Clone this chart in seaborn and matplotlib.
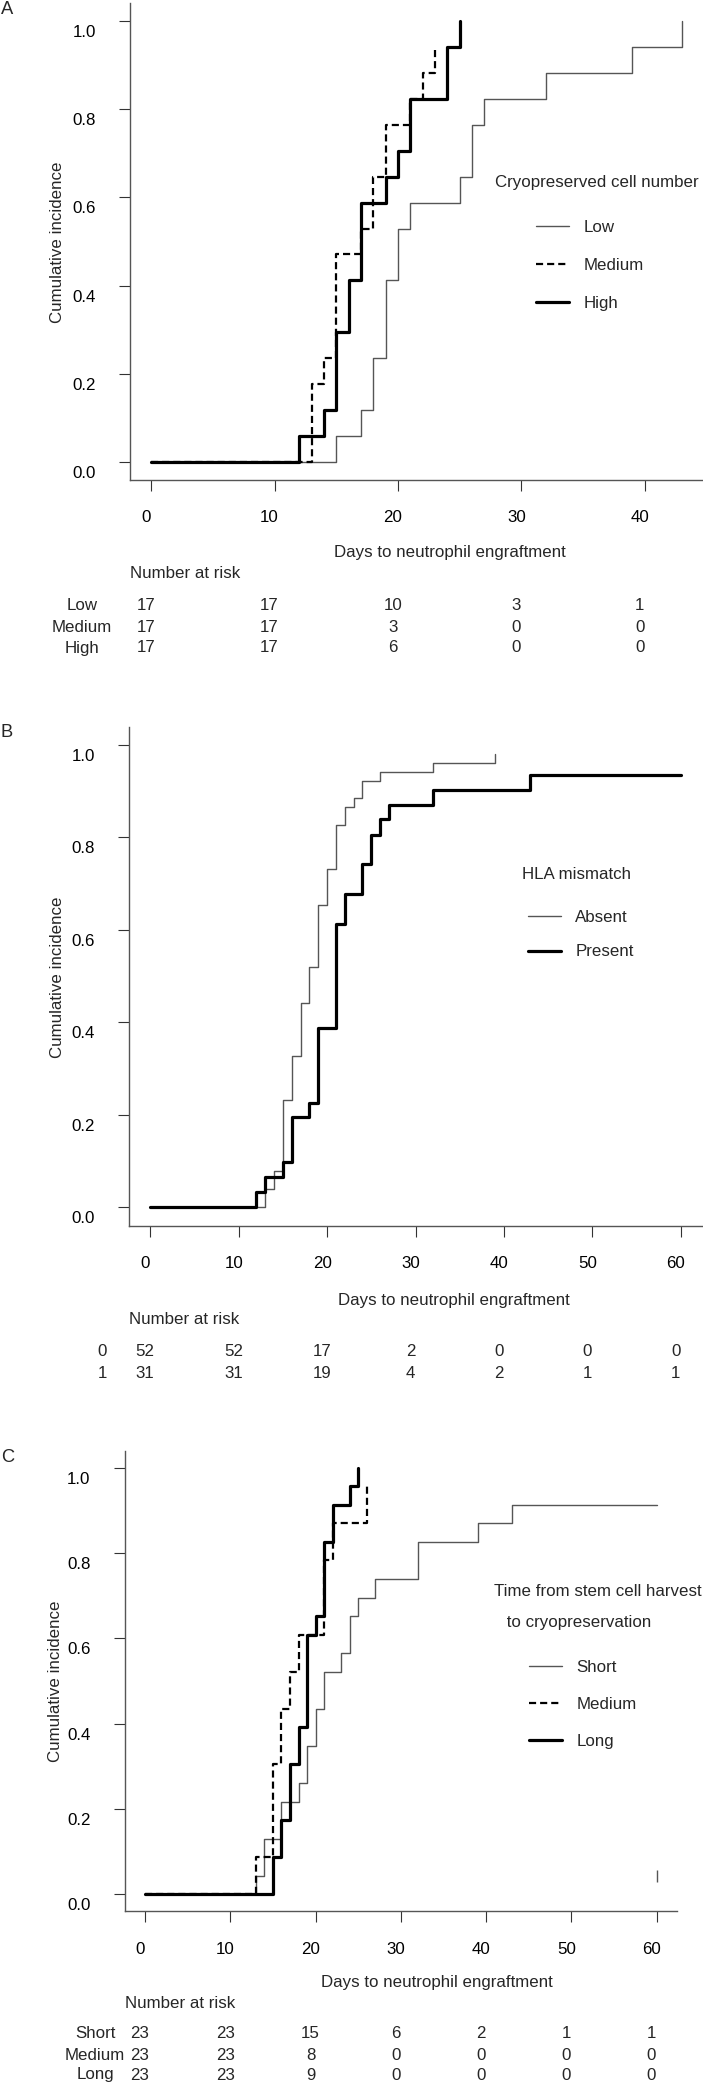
import seaborn as sns
import matplotlib.pyplot as plt
from matplotlib.lines import Line2D
from matplotlib import transforms

# ---- panel A: cryopreserved cell number ----
a_low_days = [0, 15, 17, 18, 19, 20, 21, 25, 26, 27, 32, 39, 43]
a_low_inc = [0, 0.059, 0.118, 0.235, 0.412, 0.529, 0.588, 0.647, 0.765, 0.824, 0.882, 0.941, 1.0]
a_med_days = [0, 13, 14, 15, 17, 18, 19, 21, 22, 23]
a_med_inc = [0, 0.176, 0.235, 0.471, 0.529, 0.647, 0.765, 0.824, 0.882, 0.941]
a_high_days = [0, 12, 14, 15, 16, 17, 19, 20, 21, 24, 25]
a_high_inc = [0, 0.059, 0.118, 0.294, 0.412, 0.588, 0.647, 0.706, 0.824, 0.941, 1.0]
a_groups = ['Low', 'Medium', 'High']
a_risk_times = [0, 10, 20, 30, 40]
a_risk = [[17, 17, 10, 3, 1], [17, 17, 3, 0, 0], [17, 17, 6, 0, 0]]

# ---- panel B: HLA mismatch ----
b_abs_days = [0, 13, 14, 15, 16, 17, 18, 19, 20, 21, 22, 23, 24, 26, 32, 39]
b_abs_inc = [0, 0.038, 0.077, 0.231, 0.327, 0.442, 0.519, 0.654, 0.731, 0.827, 0.865, 0.885, 0.923, 0.942, 0.962, 0.981]
b_pres_days = [0, 12, 13, 15, 16, 18, 19, 21, 22, 24, 25, 26, 27, 32, 43, 60]
b_pres_inc = [0, 0.032, 0.065, 0.097, 0.194, 0.226, 0.387, 0.613, 0.677, 0.742, 0.806, 0.839, 0.871, 0.903, 0.935, 0.935]
b_groups = ['Absent', 'Present']
b_risk_rows = ['0', '1']
b_risk_times = [0, 10, 20, 30, 40, 50, 60]
b_risk = [[52, 52, 17, 2, 0, 0, 0], [31, 31, 19, 4, 2, 1, 1]]

# ---- panel C: time from harvest to cryopreservation ----
c_short_days = [0, 13, 14, 16, 18, 19, 20, 21, 23, 24, 25, 27, 32, 39, 43, 60]
c_short_inc = [0, 0.043, 0.130, 0.217, 0.261, 0.348, 0.435, 0.522, 0.565, 0.652, 0.696, 0.739, 0.826, 0.870, 0.913, 0.913]
c_med_days = [0, 13, 15, 16, 17, 18, 21, 22, 26]
c_med_inc = [0, 0.087, 0.304, 0.435, 0.522, 0.609, 0.783, 0.870, 0.957]
c_long_days = [0, 15, 16, 17, 18, 19, 20, 21, 22, 24, 25]
c_long_inc = [0, 0.087, 0.174, 0.304, 0.391, 0.609, 0.652, 0.826, 0.913, 0.957, 1.0]
c_mark_day = [60]
c_mark_lo = [0.028]
c_mark_hi = [0.056]
c_groups = ['Short', 'Medium', 'Long']
c_risk_times = [0, 10, 20, 30, 40, 50, 60]
c_risk = [[23, 23, 15, 6, 2, 1, 1], [23, 23, 8, 0, 0, 0, 0], [23, 23, 9, 0, 0, 0, 0]]

W, H = 703, 2084
sns.set_theme(style='ticks')
plt.rcParams['font.family'] = ['Liberation Sans', 'DejaVu Sans']
FS = 12.2

thin = dict(color='#555555', lw=1.0, linestyle='-')
dash = dict(color='black', lw=1.6, linestyle=(0, (3.2, 1.8)))
thick = dict(color='black', lw=2.3, linestyle='-')

fig = plt.figure(figsize=(W / 100, H / 100), dpi=100)


def fx(x):
    return x / W


def fy(y):
    return 1 - y / H


def shift(dx, dy):
    # pixel offset, dy positive downwards
    return transforms.ScaledTranslation(dx / 100, -dy / 100, fig.dpi_scale_trans)


def panel(letter, box, xmax, xticks, curves, styles, names, legend_title, lay, risk_rows, risk_times, risk):
    l, r, t, b = box
    ax = fig.add_axes([fx(l), fy(b), (r - l) / W, (b - t) / H])
    for (d, v), st in zip(curves, styles):
        sns.lineplot(x=d, y=v, ax=ax, drawstyle='steps-post', estimator=None, sort=False, legend=False, **st)
    ax.set_xlim(-0.04 * xmax, 1.04 * xmax)
    ax.set_ylim(-0.04, 1.04)
    ax.set_xticks(xticks)
    ax.set_xticklabels([str(v) for v in xticks])
    yt = [0, 0.2, 0.4, 0.6, 0.8, 1.0]
    ax.set_yticks(yt)
    ax.set_yticklabels(['%.1f' % v for v in yt])
    ax.set_xlabel('')
    ax.set_ylabel('')
    sns.despine(ax=ax)
    for s in ['left', 'bottom']:
        ax.spines[s].set_color('#555555')
        ax.spines[s].set_linewidth(1.0)
    ax.tick_params(axis='both', direction='out', length=8, width=0.8, color='#333333', labelsize=FS, labelcolor='black')
    ax.tick_params(axis='x', pad=14)
    ax.tick_params(axis='y', pad=16.5)
    for lab in ax.get_xticklabels():
        lab.set_transform(lab.get_transform() + shift(-5, 0))
    for lab in ax.get_yticklabels():
        lab.set_transform(lab.get_transform() + shift(0, 10))

    fig.text(fx(lay['letter'][0]), fy(lay['letter'][1]), letter, fontsize=FS + 1, ha='left', va='center')
    fig.text(fx(lay['ylab'][0]), fy(lay['ylab'][1]), 'Cumulative incidence', rotation=90, fontsize=FS, ha='center', va='center')
    fig.text(fx(lay['xlab'][0]), fy(lay['xlab'][1]), 'Days to neutrophil engraftment', fontsize=FS, ha='center', va='center')
    fig.text(fx(l), fy(lay['nrisk']), 'Number at risk', fontsize=FS, ha='left', va='center')

    # legend
    for i, line in enumerate(legend_title):
        fig.text(fx(lay['ltitle'][i][0]), fy(lay['ltitle'][i][1]), line, fontsize=FS, ha='left', va='center')
    handles = [Line2D([], [], **st) for st in styles]
    ax.legend(handles, names, loc='upper left', bbox_to_anchor=(fx(lay['leg'][0]), fy(lay['leg'][1] - 7)),
              bbox_transform=fig.transFigure, frameon=False, borderpad=0, borderaxespad=0,
              handlelength=1.95, handletextpad=0.85, labelspacing=lay['lspace'], fontsize=FS)

    # number-at-risk table
    tr = transforms.blended_transform_factory(ax.transData, fig.transFigure) + shift(-5, 0)
    for row, vals, yy in zip(risk_rows, risk, lay['rows']):
        fig.text(fx(lay['rowx']), fy(yy), row, fontsize=FS, ha='center', va='center')
        for tt, n in zip(risk_times, vals):
            ax.text(tt, fy(yy), str(n), transform=tr, fontsize=FS, ha='center', va='center')
    return ax


panel('A', (130, 703, 3.4, 479.6), 43, [0, 10, 20, 30, 40],
      [(a_low_days, a_low_inc), (a_med_days, a_med_inc), (a_high_days, a_high_inc)],
      [thin, dash, thick], a_groups, ['Cryopreserved cell number'],
      dict(letter=(1, 9), ylab=(58, 242), xlab=(450, 553), nrisk=573,
           ltitle=[(495, 183)], leg=(536, 227), lspace=1.37, rows=[605, 627, 648], rowx=82),
      a_groups, a_risk_times, a_risk)

panel('B', (129, 702, 726.5, 1225.5), 60, [0, 10, 20, 30, 40, 50, 60],
      [(b_abs_days, b_abs_inc), (b_pres_days, b_pres_inc)],
      [thin, thick], b_groups, ['HLA mismatch'],
      dict(letter=(1, 733), ylab=(58, 977), xlab=(454, 1300), nrisk=1320,
           ltitle=[(522, 875)], leg=(528, 917), lspace=1.15, rows=[1352, 1373], rowx=102),
      b_risk_rows, b_risk_times, b_risk)

axc = panel('C', (124.6, 677, 1451, 1911), 60, [0, 10, 20, 30, 40, 50, 60],
            [(c_short_days, c_short_inc), (c_med_days, c_med_inc), (c_long_days, c_long_inc)],
            [thin, dash, thick], c_groups, ['Time from stem cell harvest', ' to cryopreservation'],
            dict(letter=(1, 1457), ylab=(56, 1681), xlab=(437, 1983), nrisk=2003,
                 ltitle=[(494, 1592), (502, 1622)], leg=(529, 1667), lspace=1.3,
                 rows=[2033, 2055, 2075], rowx=95),
            c_groups, c_risk_times, c_risk)
axc.vlines(c_mark_day, c_mark_lo, c_mark_hi, color='#555555', lw=1.0)

fig.savefig('out.png', dpi=100)
